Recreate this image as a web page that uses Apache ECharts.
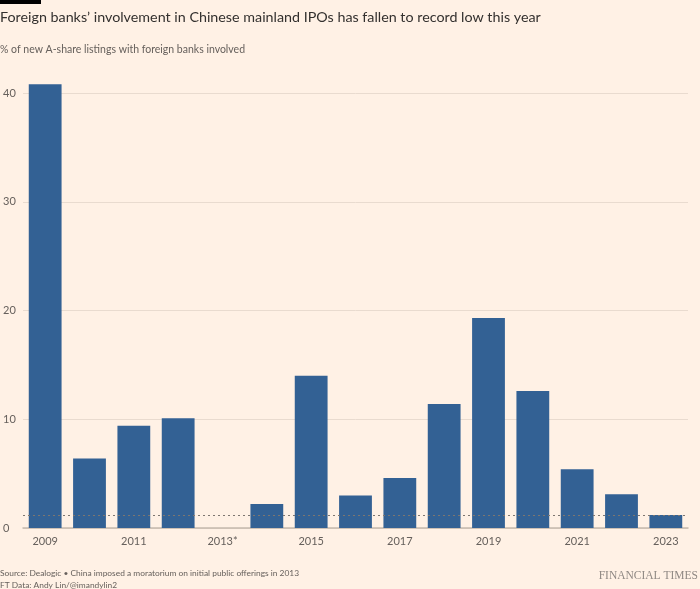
<!DOCTYPE html>
<html>
<head>
<meta charset="utf-8">
<script src="https://cdn.jsdelivr.net/npm/echarts@6/dist/echarts.min.js"></script>
<style>
html, body { margin: 0; padding: 0; background: #fff1e5; }
#container { width: 700px; height: 589px; }
</style>
</head>
<body>
<div id="container"></div>
<script>
// % of new A-share listings with foreign banks involved
var years = ['2009', '2010', '2011', '2012', '2013*', '2014', '2015', '2016',
             '2017', '2018', '2019', '2020', '2021', '2022', '2023'];
var shares = [40.8, 6.4, 9.4, 10.1, 0, 2.2, 14.0, 3.0, 4.6, 11.4, 19.3, 12.6, 5.4, 3.1, 1.2];
var yTicks = [0, 10, 20, 30, 40];
var lowLine = 1.2; // this year's level

var fontMain = 'Lato, "Open Sans", sans-serif';

var myChart = echarts.init(document.getElementById('container'));
var option = {
    backgroundColor: '#fff1e5',
    animation: false,
    textStyle: { fontFamily: fontMain },
    title: [
        {
            text: 'Foreign banks\u2019 involvement in Chinese mainland IPOs has fallen to record low this year',
            left: 0, top: 10, padding: 0,
            textStyle: { fontSize: 14.3, fontWeight: 'normal', color: '#33302e', fontFamily: fontMain }
        },
        {
            text: '% of new A-share listings with foreign banks involved',
            left: 0, top: 44, padding: 0,
            textStyle: { fontSize: 10.5, fontWeight: 'normal', color: '#66605c', fontFamily: fontMain }
        },
        {
            text: 'Source: Dealogic \u2022 China imposed a moratorium on initial public offerings in 2013\nFT Data: Andy Lin/@imandylin2',
            left: 0, top: 567, padding: 0,
            textStyle: { fontSize: 8.4, fontWeight: 'normal', color: '#66605c', lineHeight: 12, fontFamily: fontMain }
        },
        {
            text: 'FINANCIAL TIMES',
            right: 2, top: 570, padding: 0,
            textStyle: { fontSize: 11.5, fontWeight: 'normal', color: '#8f8883', fontFamily: '"Liberation Serif", "DejaVu Serif", serif' }
        }
    ],
    graphic: [
        { type: 'rect', left: 0, top: 0, shape: { width: 41, height: 4 }, style: { fill: '#000' } }
    ],
    grid: { left: 20, right: 12, top: 93, bottom: 61 },
    xAxis: {
        type: 'category',
        data: years,
        axisLine: { lineStyle: { color: '#c5b9ad', width: 1.5 } },
        axisTick: { alignWithLabel: true, interval: 1, length: 5, lineStyle: { color: '#c5b9ad' } },
        axisLabel: { interval: 1, color: '#66605c', fontSize: 11, margin: 8 }
    },
    yAxis: {
        type: 'value',
        min: 0, max: 40, interval: 10,
        axisLine: { show: false },
        axisTick: { show: false },
        splitLine: { lineStyle: { color: '#e9dbcf', width: 1 } },
        axisLabel: {
            color: '#66605c', fontSize: 11, align: 'left', margin: 20,
            formatter: function (v) { return yTicks.indexOf(v) >= 0 ? String(v) : ''; }
        }
    },
    series: [
        {
            type: 'bar',
            data: shares,
            barWidth: '74%',
            clip: false,
            itemStyle: { color: '#336194' },
            markLine: {
                silent: true,
                symbol: ['none', 'none'],
                label: { show: false },
                lineStyle: { color: '#7d7670', type: [2, 3], width: 1.2 },
                data: [{ yAxis: lowLine }]
            }
        }
    ]
};
myChart.setOption(option);
</script>
</body>
</html>
